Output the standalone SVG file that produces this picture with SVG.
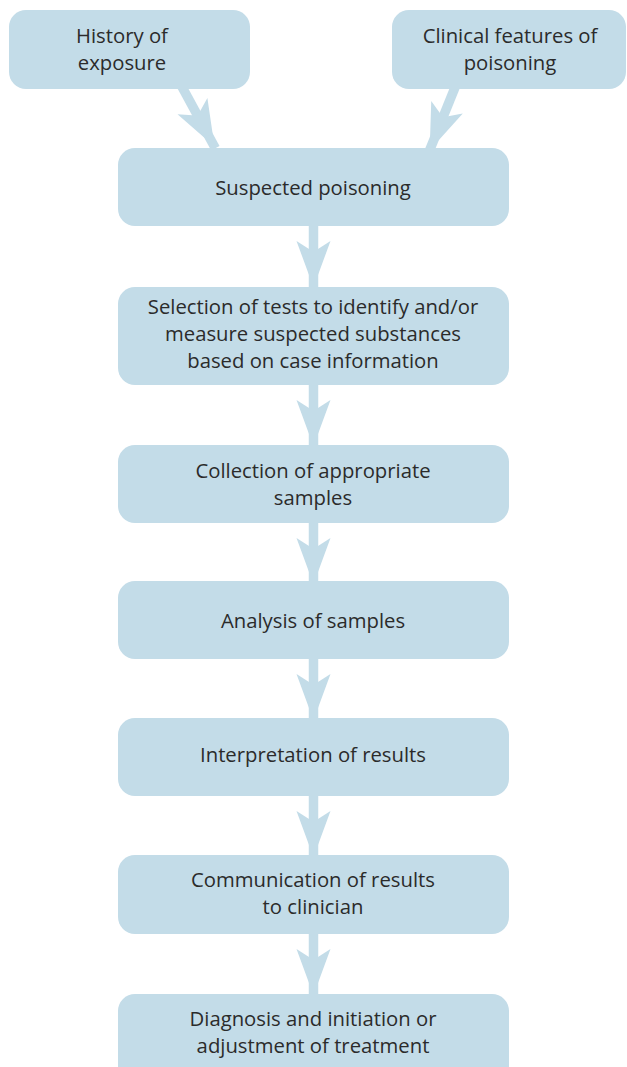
<svg xmlns="http://www.w3.org/2000/svg" xmlns:xlink="http://www.w3.org/1999/xlink" width="627" height="1067" viewBox="0 0 627 1067">
<style>
.box{fill:#c3dce8}
.stem{stroke:#c3dce8;stroke-width:9.5;fill:none}
.head{fill:#c3dce8}
text{font-family:"Open Sans","Liberation Sans",sans-serif;font-size:20.3px;fill:#2b2b2b;text-anchor:middle}
</style>
<defs>
<polygon id="ah" class="head" points="-17,0 -4.5,8 4.5,8 17,0 4.5,34 -4.5,34"/>
</defs>
<rect width="627" height="1067" fill="#ffffff"/>
<g id="connectors">
<g transform="translate(181,85) rotate(-28.5)">
<line class="stem" x1="0" y1="0" x2="0" y2="72"/>
<use xlink:href="#ah" transform="translate(0,24)"/>
</g>
<g transform="translate(456,85) rotate(22)">
<line class="stem" x1="0" y1="0" x2="0" y2="70"/>
<use xlink:href="#ah" transform="translate(0,24)"/>
</g>
<g transform="translate(313.5,222)">
<line class="stem" x1="0" y1="0" x2="0" y2="70"/>
<use xlink:href="#ah" transform="translate(0,19)"/>
</g>
<g transform="translate(313.5,381)">
<line class="stem" x1="0" y1="0" x2="0" y2="68"/>
<use xlink:href="#ah" transform="translate(0,19)"/>
</g>
<g transform="translate(313.5,519)">
<line class="stem" x1="0" y1="0" x2="0" y2="66"/>
<use xlink:href="#ah" transform="translate(0,19)"/>
</g>
<g transform="translate(313.5,655)">
<line class="stem" x1="0" y1="0" x2="0" y2="67"/>
<use xlink:href="#ah" transform="translate(0,19)"/>
</g>
<g transform="translate(313.5,792)">
<line class="stem" x1="0" y1="0" x2="0" y2="67"/>
<use xlink:href="#ah" transform="translate(0,19)"/>
</g>
<g transform="translate(313.5,930)">
<line class="stem" x1="0" y1="0" x2="0" y2="68"/>
<use xlink:href="#ah" transform="translate(0,19)"/>
</g>
</g>
<g id="history">
<rect class="box" x="9" y="10" width="241" height="79" rx="17"/>
<text x="122" y="43">History of</text>
<text x="122" y="70">exposure</text>
</g>
<g id="clinical">
<rect class="box" x="392" y="10" width="234" height="79" rx="17"/>
<text x="510" y="43">Clinical features of</text>
<text x="510" y="70">poisoning</text>
</g>
<g id="suspected">
<rect class="box" x="118" y="148" width="391" height="78" rx="17"/>
<text x="313" y="195">Suspected poisoning</text>
</g>
<g id="selection">
<rect class="box" x="118" y="287" width="391" height="98" rx="17"/>
<text x="313" y="314">Selection of tests to identify and/or</text>
<text x="313" y="341">measure suspected substances</text>
<text x="313" y="368">based on case information</text>
</g>
<g id="collection">
<rect class="box" x="118" y="445" width="391" height="78" rx="17"/>
<text x="313" y="478">Collection of appropriate</text>
<text x="313" y="505">samples</text>
</g>
<g id="analysis">
<rect class="box" x="118" y="581" width="391" height="78" rx="17"/>
<text x="313" y="628">Analysis of samples</text>
</g>
<g id="interpretation">
<rect class="box" x="118" y="718" width="391" height="78" rx="17"/>
<text x="313" y="762">Interpretation of results</text>
</g>
<g id="communication">
<rect class="box" x="118" y="855" width="391" height="79" rx="17"/>
<text x="313" y="887">Communication of results</text>
<text x="313" y="914">to clinician</text>
</g>
<g id="diagnosis">
<rect class="box" x="118" y="994" width="391" height="90" rx="17"/>
<text x="313" y="1026">Diagnosis and initiation or</text>
<text x="313" y="1053">adjustment of treatment</text>
</g>
</svg>
